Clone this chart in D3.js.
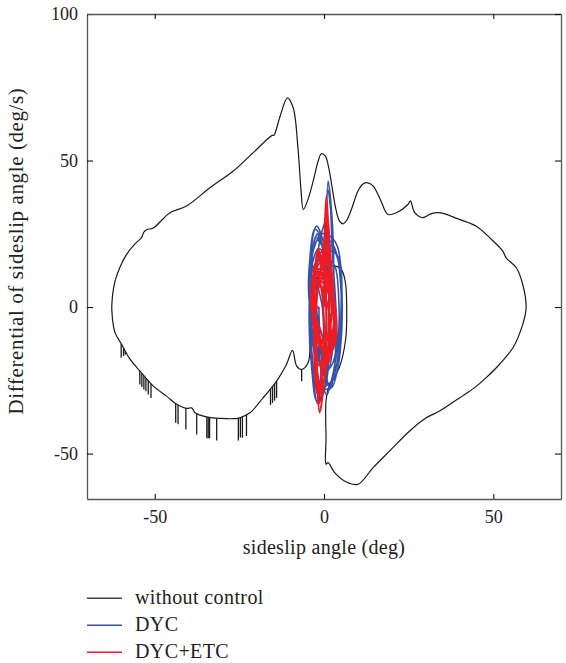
<!DOCTYPE html>
<html>
<head>
<meta charset="utf-8">
<script src="https://cdn.jsdelivr.net/npm/d3@7"></script>
<style>
  body { margin: 0; background: #fff; }
  text { font-family: "Liberation Serif", "Times New Roman", serif; fill: #222; }
</style>
</head>
<body>
<div class="vis"></div>
<script>
// phase plot: sideslip angle vs its derivative

//Width and height
var w = 566;
var h = 663;
var margin = {top: 14, right: 5, bottom: 164, left: 87};

// tick values
var xTicks = [-50, 0, 50];
var yTicks = [-50, 0, 50, 100];

// without control - one big loop [beta, beta dot]
var noControl = [
    [-62.7, 0], [-62.4, 4.5], [-61.7, 8.9], [-60.3, 13.5], [-58.3, 18], [-55.9, 21.5], [-53.9, 23.7],
    [-53.2, 25.6], [-52.4, 26.4], [-50.4, 27], [-47.8, 29.8], [-45.5, 32.2], [-40.6, 34.5],
    [-33.7, 40.7], [-26.8, 46.4], [-20.9, 52.7], [-15.3, 58.6], [-14.8, 58.6], [-13.1, 64.6],
    [-10.8, 71.4], [-9.1, 68], [-7.7, 54.4], [-6.8, 40], [-6.1, 33.3], [-4.8, 36.5], [-3.2, 43],
    [-1.8, 49.5], [-0.8, 52.3], [0.4, 51.5], [1.4, 47.5], [2.3, 41.5], [3.4, 34], [4.5, 29.5],
    [5.6, 28.4], [6.8, 29.8], [8.3, 34], [10, 39.5], [11.5, 42], [13, 42.4], [14.6, 41.2],
    [16.6, 36.8], [18.9, 31.6], [21.4, 32.2], [24.8, 35], [25.5, 36.2], [26.8, 32.2],
    [29.2, 30.5], [31.5, 31.8], [34.1, 32.2], [40, 29.9], [45, 27.6], [48.9, 23.7], [52.8, 19.1],
    [53.8, 16.8], [56.8, 13.4], [58.7, 7.7], [59.7, -0.2], [58.7, -5.9], [55.8, -13.9], [51.8, -19.6],
    [47.9, -24.1], [44.5, -27.5], [40, -31], [34.1, -35.5], [30.2, -37.8], [25.3, -42.3], [19.4, -49.1],
    [14.5, -54.8], [10, -60.5], [6.6, -59.7], [3.2, -56.6], [1.2, -53.1], [0.6, -53.6], [0.6, -45],
    [0.6, -32], [1.6, -26.5], [4.4, -21], [6.4, -11], [6.7, 0], [6.3, 8.5], [5, 13], [2, 14],
    [-1, 12], [-3, 5], [-4, -8], [-4.7, -19], [-6.7, -21.3], [-8.1, -20.1], [-9.3, -14.8],
    [-11.1, -19.6], [-14, -25.3], [-18, -31], [-21.9, -36.1], [-24.9, -37.8], [-28.8, -38.1],
    [-34.7, -37.5], [-38.1, -36.1], [-39.1, -34.4], [-40.6, -34.6], [-43.5, -33.2], [-46.5, -30.4],
    [-50.4, -27], [-54.4, -21.8], [-57.3, -17.8], [-59.8, -12.7], [-61.7, -8.8], [-62.4, -4.8], [-62.7, 0]
];

// the noisy spikes hanging under the lower left part of the curve
var spikeX      = [-59.9, -59.2, -58.7, -54.4, -53.8, -53.2, -52.6, -51.9, -51.1, -43.8, -43.1, -40.8, -37.6, -34.6, -34.2, -33.8, -31.7, -25.3, -24.7, -24.1, -22.9, -15.8, -15.2, -14.6, -14, -6.6];
var spikeTop    = [-12.6, -14, -15, -21.8, -22.6, -23.4, -24.2, -25, -26.2, -33, -33.4, -34.6, -36.3, -37.5, -37.6, -37.7, -38, -37.9, -37.7, -37.5, -36.8, -28, -27.2, -26.3, -25.3, -21.3];
var spikeBottom = [-17.3, -16.7, -16.2, -26.4, -27.3, -28.1, -28.7, -29.8, -31, -39.5, -40, -41.8, -43.5, -44.8, -44.8, -44.8, -45.5, -45.5, -44.5, -44.6, -44, -33.4, -32.7, -31.9, -31, -25.3];

// DYC - oscillations around the origin
var dyc = [
    [0.5, 0], [0.6, 20], [1.2, 43], [2.5, 28], [3.0, 5], [3.2, -20], [1.7, -28], [0.2, -18], [-0.5, 0],
    [-3.8, 18], [-2.2, 27.6], [0.3, 20], [1.4, 0], [0.8, -25], [-1.8, -33], [-3.4, -20], [-4.2, 0],
    [-3, 20], [-0.5, 25], [2, 24], [4.1, 20.2], [5.1, 10], [5.3, -5], [4.2, -20], [2.2, -27.5], [-0.5, -22], [-2.8, -8],
    [-4.5, 4], [-4.2, 16], [-2.8, 26.5], [-1.4, 25], [0.2, 12], [0.8, -6], [0.1, -28], [-2.1, -32], [-3.7, -20], [-4.4, -4],
    [-3.5, 12], [-1, 17], [2.5, 19], [4.6, 16], [5.3, 5], [5, -12], [3.2, -24.1], [1.2, -26], [-1, -15], [-2.3, 0],
    [-4.2, 8], [-3.6, 18], [-2.4, 24], [-1.2, 22], [2, 21], [4.4, 15], [5.1, 3], [4.6, -9], [2.8, -22], [1.4, -28],
    [-0.8, -27], [-2.6, -17], [-4.1, -6],
    [-3.9, 6], [-3.3, 19], [-2, 25], [-0.6, 21], [1.8, 22.5], [3.8, 18], [4.9, 8], [5.1, -6], [4, -18], [2.4, -25],
    [0.5, -27], [-1.5, -30], [-2.5, -26], [-3.8, -12],
    [-4.3, 2], [-3.6, 14], [-1.6, 20], [0.8, 17], [3.2, 14], [4.3, 4], [4.2, -10], [2.2, -20], [0, -22], [-2.5, -14], [-3.8, -2],
    [-1, 24], [0.4, 30], [1.1, 40], [1.9, 34], [2.4, 20], [3.5, 0], [3.6, -16], [2, -26], [0.8, -30], [-0.6, -24],
    [-2, 14], [-0.5, 19], [1.5, 15], [2.8, 0], [2.5, -15], [1, -22], [-1, -12], [-1.5, 0]
];

// DYC+ETC - tighter oscillations, very dense near the origin
var dycEtc = [
    [0, 0], [0.2, 25], [0.7, 37.9], [1.3, 26], [1.6, 5], [1.4, -10], [1.2, -19], [0.2, -8], [-0.6, 5],
    [-2.3, 15], [-1.8, 19.7], [-0.1, 12], [0.7, -5], [0.1, -24], [-1.3, -36], [-2.1, -24], [-2.6, -5],
    [-3.2, 5], [-2.4, 13], [-0.8, 15], [1.2, 10], [2.6, 2], [2.8, -8], [1.2, -19], [-0.5, -14], [-2.4, -6],
    [-1.9, 6], [-0.4, 18], [0.9, 31], [2, 16], [3, 0], [2.4, -12], [1, -16], [-1, -8],
    [-3.5, -2], [-3, 9], [-1.2, 8], [1, 1], [2, -6], [1.4, -14], [-0.4, -27], [-1.8, -30], [-2.9, -14], [-2.2, 2],
    [-1, 12], [0.6, 18], [1.8, 8], [2.2, -4], [0.6, -12], [-1.5, -20], [-2.6, -10],
    [-3.4, 0], [-3, 10], [-1.5, 12], [0.5, 8], [2.5, 0], [3.4, -8], [2.2, -15], [0, -14], [-2.5, -8],
    [-3.6, 2], [-2.8, 12], [-0.5, 13], [2, 6], [3.6, -3], [3, -13], [0.8, -16], [-1.8, -12], [-3.2, -4],
    [-2.6, 8], [-2.4, 16], [-1.8, 19], [-1.1, 15], [1.5, 9], [3.2, 1], [3.3, -10], [1.8, -15], [-0.8, -13], [-3, -6],
    [-3.4, 5], [-2.2, 11], [0, 12], [0.4, 24], [0.7, 34], [1.1, 26], [1.6, 10], [2.5, 4], [3.5, -6], [2.6, -14],
    [0, -15], [-1, -26], [-1.5, -33], [-2, -22], [-2.8, -10], [-3.5, 0], [-2.9, 7], [-1, 9], [1.2, 5],
    [2.9, -2], [2.4, -10], [0.5, -11], [-1.8, -6],
    [-3.1, 3], [-2.2, 9], [0, 10], [1.8, 6], [3.3, -3], [3, -11], [1.2, -14], [-1, -11], [-2.8, -4],
    [-3.3, 6], [-2.5, 15], [-1.4, 16], [0.8, 12], [2.2, 6], [3.1, -5], [2, -13], [-0.2, -19], [-1.1, -29], [-1.9, -24], [-3, -7],
    [-2.4, 4], [-1.1, 8], [0.9, 16], [1.2, 22], [1.5, 14], [2.7, 3], [2.9, -6], [1.6, -12], [0.9, -17], [-0.7, -9], [-2.9, -1],
    [-1.5, 0]
];

// legend entries
var legendNames = ["without control", "DYC", "DYC+ETC"];
var colours = ["#1a1a1a", "#3553a8", "#ed1c24"];

var svg = d3.select(".vis")
    .append("svg")
    .attr("width", w)
    .attr("height", h);

// scales
var xScale = d3.scaleLinear()
    .domain([-70, 70])
    .range([margin.left, w - margin.right]);

var yScale = d3.scaleLinear()
    .domain([-65.5, 100])
    .range([h - margin.bottom, margin.top]);

var line = d3.line()
    .x(function(d) { return xScale(d[0]); })
    .y(function(d) { return yScale(d[1]); })
    .curve(d3.curveCatmullRom.alpha(0.5));

// curves - black first so the controlled ones sit on top
svg.append("path")
    .datum(noControl)
    .attr("d", line)
    .attr("fill", "none")
    .attr("stroke", colours[0])
    .attr("stroke-width", 1.2);

svg.selectAll("line.spike")
    .data(spikeX)
    .enter()
    .append("line")
    .attr("class", "spike")
    .attr("x1", function(d) { return xScale(d); })
    .attr("x2", function(d) { return xScale(d); })
    .attr("y1", function(d, i) { return yScale(spikeTop[i]); })
    .attr("y2", function(d, i) { return yScale(spikeBottom[i]); })
    .attr("stroke", colours[0])
    .attr("stroke-width", 1.3);

svg.append("path")
    .datum(dyc)
    .attr("d", line)
    .attr("fill", "none")
    .attr("stroke", colours[1])
    .attr("stroke-width", 1.6);

svg.append("path")
    .datum(dycEtc)
    .attr("d", line)
    .attr("fill", "none")
    .attr("stroke", colours[2])
    .attr("stroke-width", 2);

// axes - ticks point inward on all four sides
var fmt = function(d) { return String(d); }; // plain hyphen like the original
var xAxis = d3.axisBottom(xScale).tickValues(xTicks).tickSizeInner(-5).tickSizeOuter(0).tickPadding(11).tickFormat(fmt);
var yAxis = d3.axisLeft(yScale).tickValues(yTicks).tickSizeInner(-6).tickSizeOuter(0).tickPadding(9).tickFormat(fmt);
var xTop = d3.axisTop(xScale).tickValues(xTicks).tickSizeInner(-5).tickSizeOuter(0).tickFormat("");
var yRight = d3.axisRight(yScale).tickValues(yTicks).tickSizeInner(-6).tickSizeOuter(0).tickFormat("");

function styleAxis(g) {
    g.attr("font-family", "Liberation Serif").attr("font-size", 18);
    g.select(".domain").attr("stroke", "#555").attr("stroke-width", 1.3);
    g.selectAll(".tick line").attr("stroke", "#111").attr("stroke-width", 1.1);
    g.selectAll(".tick text").attr("fill", "#222");
}

svg.append("g")
    .attr("transform", "translate(0," + (h - margin.bottom) + ")")
    .call(xAxis)
    .call(styleAxis);

svg.append("g")
    .attr("transform", "translate(" + margin.left + ",0)")
    .call(yAxis)
    .call(styleAxis);

svg.append("g")
    .attr("transform", "translate(0," + margin.top + ")")
    .call(xTop)
    .call(styleAxis);

svg.append("g")
    .attr("transform", "translate(" + (w - margin.right) + ",0)")
    .call(yRight)
    .call(styleAxis);

// axis titles
svg.append("text")
    .attr("x", xScale(0))
    .attr("y", 554)
    .attr("text-anchor", "middle")
    .style("font-size", "20px")
    .style("letter-spacing", "0.3px")
    .text("sideslip angle (deg)");

svg.append("text")
    .attr("transform", "translate(23," + 251 + ") rotate(-90)")
    .attr("text-anchor", "middle")
    .style("font-size", "21px")
    .style("letter-spacing", "0.6px")
    .text("Differential of sideslip angle (deg/s)");

// legend under the chart
var legend = svg.selectAll("g.legend")
    .data(legendNames)
    .enter()
    .append("g")
    .attr("class", "legend")
    .attr("transform", function(d, i) { return "translate(0," + (598.3 + i * 27) + ")"; });

legend.append("line")
    .attr("x1", 87)
    .attr("x2", 122)
    .attr("stroke", function(d, i) { return i == 0 ? "#444" : colours[i]; })
    .attr("stroke-width", 1.4);

legend.append("text")
    .attr("x", 135)
    .attr("y", 6)
    .style("font-size", "20px")
    .style("letter-spacing", "0.4px")
    .text(function(d) { return d; });
</script>
</body>
</html>
